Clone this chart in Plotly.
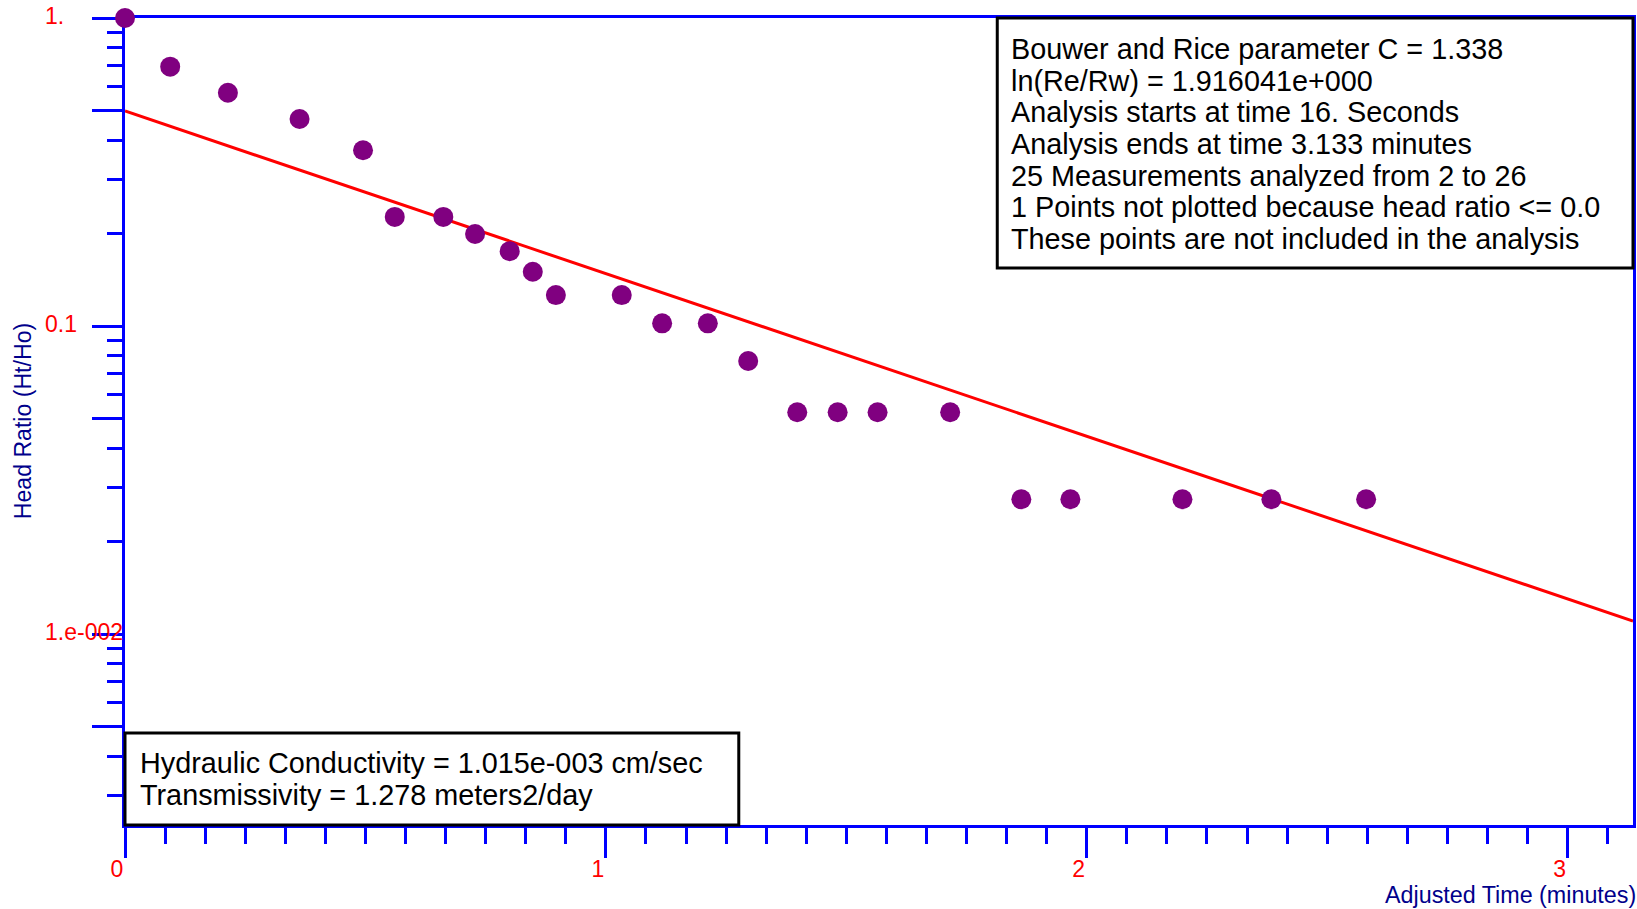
import math
import plotly.graph_objects as go

# Slug-test recovery: adjusted time (minutes) vs. normalized head Ht/Ho
elapsed_min = [0.000, 0.094, 0.214, 0.363, 0.495, 0.561, 0.662, 0.728, 0.800, 0.848,
               0.896, 1.033, 1.117, 1.212, 1.296, 1.398, 1.482, 1.565, 1.716, 1.864,
               1.966, 2.199, 2.384, 2.581]
head_ratio = [1.000, 0.695, 0.572, 0.470, 0.372, 0.226, 0.226, 0.199, 0.175, 0.150,
              0.126, 0.126, 0.102, 0.102, 0.077, 0.0525, 0.0525, 0.0525, 0.0525, 0.0274,
              0.0274, 0.0274, 0.0274, 0.0274]

# Bouwer & Rice straight-line fit: log10(H/Ho) = log10(h0) + slope * t
fit_h0 = 0.499
fit_log10_slope = -0.528

x_range = [0.0, 3.136]
y_range_log = [-2.62, 0.0]

y_major = [0.005, 0.01, 0.05, 0.1, 0.5, 1.0]
y_minor = [0.003, 0.004, 0.006, 0.007, 0.008, 0.009,
           0.02, 0.03, 0.04, 0.06, 0.07, 0.08, 0.09,
           0.2, 0.3, 0.4, 0.6, 0.7, 0.8, 0.9]
y_tick_labels = [(1.0, "1."), (0.1, "0.1"), (0.01, "1.e-002")]

info_lines = [
    "Bouwer and Rice parameter C = 1.338",
    "ln(Re/Rw) = 1.916041e+000",
    "Analysis starts at time 16. Seconds",
    "Analysis ends at time 3.133 minutes",
    "25 Measurements analyzed from 2 to 26",
    "1 Points not plotted because head ratio <= 0.0",
    "These points are not included in the analysis",
]
result_lines = [
    "Hydraulic Conductivity = 1.015e-003 cm/sec",
    "Transmissivity = 1.278 meters2/day",
]

FONT = "Liberation Sans, Arial, Helvetica, sans-serif"
BLUE = "#0000FF"
NAVY = "#00008B"
RED = "#FF0000"
PURPLE = "#800080"

W, H = 1637, 909
ML, MR, MT, MB = 125, 1, 18, 84
PW, PH = W - ML - MR, H - MT - MB


def paper_x(px):
    return (px - ML) / PW


def paper_y(py):
    return (H - MB - py) / PH


fit_x = [x_range[0], x_range[1]]
fit_y = [fit_h0 * 10 ** (fit_log10_slope * t) for t in fit_x]

fig = go.Figure()
fig.add_trace(go.Scatter(
    x=fit_x, y=fit_y, mode="lines",
    line=dict(color=RED, width=3),
    showlegend=False, hoverinfo="skip",
))
fig.add_trace(go.Scatter(
    x=elapsed_min, y=head_ratio, mode="markers",
    marker=dict(color=PURPLE, size=20, line=dict(width=0)),
    cliponaxis=False, showlegend=False,
))

annotations = []
for val, txt in y_tick_labels:
    annotations.append(dict(
        xref="paper", yref="y", x=paper_x(43), y=math.log10(val),
        text=txt, showarrow=False, xanchor="left", yanchor="middle", yshift=2,
        font=dict(family=FONT, size=23, color=RED),
    ))

annotations.append(dict(
    xref="paper", yref="paper", x=paper_x(1641), y=paper_y(895),
    text="Adjusted Time (minutes)", showarrow=False, xanchor="right", yanchor="middle",
    font=dict(family=FONT, size=23.3, color=NAVY),
))
annotations.append(dict(
    xref="paper", yref="paper", x=paper_x(23), y=paper_y(421),
    text="Head Ratio (Ht/Ho)", showarrow=False, xanchor="center", yanchor="middle",
    textangle=-90,
    font=dict(family=FONT, size=23.1, color=NAVY),
))

for i, line in enumerate(info_lines):
    annotations.append(dict(
        xref="paper", yref="paper", x=paper_x(1011), y=paper_y(49 + i * 31.65),
        text=line, showarrow=False, xanchor="left", yanchor="middle",
        font=dict(family=FONT, size=28.8, color="black"),
    ))
for i, line in enumerate(result_lines):
    annotations.append(dict(
        xref="paper", yref="paper", x=paper_x(138), y=paper_y(763 + i * 32.4),
        text=line, showarrow=False, xanchor="left", yanchor="middle",
        font=dict(family=FONT, size=28.8, color="black"),
    ))

shapes = [
    dict(type="rect", xref="paper", yref="paper",
         x0=paper_x(999), x1=paper_x(1636), y0=paper_y(268), y1=paper_y(18),
         fillcolor="white", line=dict(color="black", width=3), layer="above"),
    dict(type="rect", xref="paper", yref="paper",
         x0=paper_x(125), x1=paper_x(740), y0=paper_y(825), y1=paper_y(733),
         fillcolor="white", line=dict(color="black", width=3), layer="above"),
]

fig.update_layout(
    width=W, height=H,
    margin=dict(l=ML, r=MR, t=MT, b=MB, pad=0),
    paper_bgcolor="white", plot_bgcolor="white",
    font=dict(family=FONT),
    annotations=annotations,
    shapes=shapes,
    xaxis=dict(
        range=x_range, showgrid=False, zeroline=False,
        showline=True, linecolor=BLUE, linewidth=3, mirror=True,
        ticks="outside", ticklen=30, tickwidth=3, tickcolor=BLUE,
        tick0=0, dtick=1,
        tickfont=dict(family=FONT, size=23, color=RED),
        ticklabelshift=-8, ticklabelstandoff=-9,
        minor=dict(ticks="outside", ticklen=16, tickwidth=3, tickcolor=BLUE,
                   tick0=0, dtick=1 / 12, showgrid=False),
        layer="below traces",
    ),
    yaxis=dict(
        type="log", range=y_range_log, showgrid=False, zeroline=False,
        showline=True, linecolor=BLUE, linewidth=3, mirror=True,
        ticks="outside", ticklen=30, tickwidth=3, tickcolor=BLUE,
        tickmode="array", tickvals=y_major, showticklabels=False,
        minor=dict(ticks="outside", ticklen=15, tickwidth=3, tickcolor=BLUE,
                   tickmode="array", tickvals=y_minor, showgrid=False),
        layer="below traces",
    ),
)

fig.write_html("out.html")
